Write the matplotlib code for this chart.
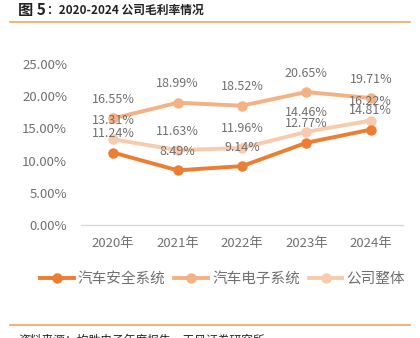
import matplotlib
matplotlib.use("Agg")
import matplotlib.pyplot as plt
from matplotlib.lines import Line2D

plt.rcParams['font.family'] = ['Noto Sans CJK SC', 'DejaVu Sans']

years = ['2020年', '2021年', '2022年', '2023年', '2024年']
safety = [11.24, 8.49, 9.14, 12.77, 14.81]
electronics = [16.55, 18.99, 18.52, 20.65, 19.71]
overall = [13.31, 11.63, 11.96, 14.46, 16.22]
names = ['汽车安全系统', '汽车电子系统', '公司整体']
colors = ['#ED7D31', '#F4B183', '#F8CBAD']
series = [safety, electronics, overall]

fig = plt.figure(figsize=(4.2, 3.38), dpi=100)
ax = fig.add_axes([81 / 420, 1 - 225 / 338, 322 / 420, 161 / 338])

x = range(len(years))
# draw light first so darker lines sit on top
for vals, col, z in zip(series, colors, [4, 3, 2]):
    ax.plot(x, vals, color=col, lw=2.8, marker='o', ms=6.5, zorder=z)
    for xi, v in zip(x, vals):
        ax.annotate(f'{v:.2f}%', (xi, v), xytext=(0, 9), textcoords='offset points',
                    ha='center', va='bottom', fontsize=9, color='#707070', zorder=6)

ax.set_xlim(-0.5, 4.5)
ax.set_ylim(0, 25)
ax.set_yticks([0, 5, 10, 15, 20, 25])
ax.set_yticklabels([f'{t:.2f}%' for t in [0, 5, 10, 15, 20, 25]])
ax.set_xticks(list(x))
ax.set_xticklabels(years)
ax.tick_params(axis='both', length=0, labelsize=9.5, labelcolor='#707070')
ax.tick_params(axis='x', pad=9)
ax.tick_params(axis='y', pad=10)
for s in ['top', 'right', 'left']:
    ax.spines[s].set_visible(False)
ax.spines['bottom'].set_color('#d9d9d9')
ax.spines['bottom'].set_linewidth(1)

handles = [Line2D([0], [0], color=c, lw=2.8, marker='o', ms=6.5) for c in colors]
fig.legend(handles, names, loc='center', bbox_to_anchor=(0.53, 1 - 279 / 338), ncol=3,
           frameon=False, fontsize=10.5, labelcolor='#707070', handlelength=2.3,
           handletextpad=0.3, columnspacing=0.6)

# title and decoration
fig.text(18 / 420, 1 - 10 / 338, '图 5', fontsize=11, fontweight='bold', va='center', color='#222222')
fig.text(47 / 420, 1 - 10 / 338, '：2020-2024 公司毛利率情况', fontsize=8.5, fontweight='bold',
         va='center', color='#222222')
fig.add_artist(Line2D([10 / 420, 410 / 420], [1 - 22 / 338] * 2, color='#F4A460', lw=1.2))
fig.add_artist(Line2D([10 / 420, 410 / 420], [1 - 325 / 338] * 2, color='#F4A460', lw=1.2))
fig.text(18 / 420, 1 - 340 / 338, '资料来源：均胜电子年度报告，天风证券研究所', fontsize=8.5,
         va='center', color='#222222')

fig.savefig('out.png', dpi=100)
